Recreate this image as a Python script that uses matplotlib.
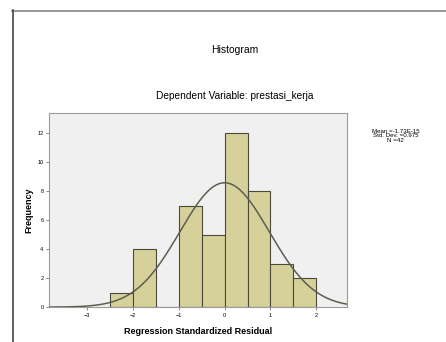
import numpy as np
import matplotlib
matplotlib.use("Agg")
import matplotlib.pyplot as plt

plt.rcParams['font.family'] = ['Liberation Sans', 'DejaVu Sans']

# histogram data (bin left edges, counts), bin width 0.5
bin_edges = [-2.5, -2.0, -1.5, -1.0, -0.5, 0.0, 0.5, 1.0, 1.5, 2.0]
counts = [1, 4, 0, 7, 5, 12, 8, 3, 2]

# summary stats shown in the legend box
mean_val = 0.0
std_val = 0.975
n_val = 42
stats_text = "Mean =-1.73E-15\nStd. Dev. =0.975\nN =42"

x_ticks = [-3, -2, -1, 0, 1, 2]
y_ticks = [0, 2, 4, 6, 8, 10, 12]

fig = plt.figure(figsize=(4.46, 3.42), dpi=100)
ax = fig.add_axes([0.110, 0.102, 0.668, 0.567])
ax.set_facecolor('#f0f0f0')

widths = np.diff(bin_edges)
ax.bar(bin_edges[:-1], counts, width=widths, align='edge',
       color='#d6d09a', edgecolor='#4a4a3a', linewidth=0.8, zorder=2)

# fitted normal curve
xs = np.linspace(-3.83, 2.67, 300)
bw = widths[0]
ys = n_val * bw / (std_val * np.sqrt(2 * np.pi)) * np.exp(-0.5 * ((xs - mean_val) / std_val) ** 2)
ax.plot(xs, ys, color='#5e5e50', linewidth=1.1, zorder=3)

ax.set_xlim(-3.83, 2.67)
ax.set_ylim(0, 13.4)
ax.set_xticks(x_ticks)
ax.set_yticks(y_ticks)
ax.tick_params(labelsize=4, length=2, width=0.5, color='#555555', pad=2)
for s in ax.spines.values():
    s.set_color('#9a9a9a')
    s.set_linewidth(0.8)

ax.set_xlabel('Regression Standardized Residual', fontsize=6.5, fontweight='bold', labelpad=7)
ax.set_ylabel('Frequency', fontsize=6.5, fontweight='bold', labelpad=3)

fig.text(0.527, 0.854, 'Histogram', ha='center', va='center', fontsize=7.5)
fig.text(0.527, 0.719, 'Dependent Variable: prestasi_kerja', ha='center', va='center', fontsize=7.3)
fig.text(0.887, 0.603, stats_text, ha='center', va='center', fontsize=4.4, linespacing=0.9)

# outer frame
fig.add_artist(plt.Line2D([12 / 446, 1.0], [1 - 10.5 / 342] * 2, transform=fig.transFigure,
                          color='#888888', linewidth=1.2))
fig.add_artist(plt.Line2D([12.5 / 446] * 2, [0, 1 - 10 / 342], transform=fig.transFigure,
                          color='#444444', linewidth=1.2))

fig.savefig('out.png', dpi=100)
